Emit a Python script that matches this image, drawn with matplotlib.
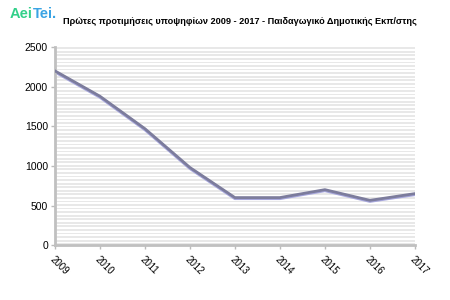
import matplotlib
matplotlib.use("Agg")
import matplotlib.pyplot as plt
import numpy as np

years = ["2009", "2010", "2011", "2012", "2013", "2014", "2015", "2016", "2017"]
values = [2200, 1880, 1470, 980, 600, 600, 700, 565, 650]
yticks = [0, 500, 1000, 1500, 2000, 2500]
title = "Πρώτες προτιμήσεις υποψηφίων 2009 - 2017 - Παιδαγωγικό Δημοτικής Εκπ/στης"

plt.rcParams['font.family'] = ['Liberation Sans', 'DejaVu Sans']

fig = plt.figure(figsize=(4.5, 3), dpi=100)
ax = fig.add_axes([0.122, 0.183, 0.8, 0.66])

x = np.arange(len(years))
# striped background
step = 45
for y0 in np.arange(0, 2500, step):
    ax.axhspan(y0, y0 + step * 0.5, color='#e8e8e8', lw=0, zorder=0)

# shadow + main line
ax.plot(x, np.array(values) - 12, color='#a6a6dc', lw=2.2, zorder=2, solid_joinstyle='round')
ax.plot(x, values, color='#7c7c9c', lw=2.0, zorder=3, solid_joinstyle='round')

ax.set_xlim(0, len(years) - 1)
ax.set_ylim(0, 2500)
ax.set_xticks(x)
ax.set_xticklabels(years, rotation=-45, ha='left', va='top', rotation_mode='anchor', fontsize=7)
ax.set_yticks(yticks)
ax.set_yticklabels([str(v) for v in yticks], fontsize=7.5)
ax.tick_params(axis='both', color='#bbbbbb', length=3, width=1, pad=2)
ax.tick_params(axis='x', pad=4)

for s in ['top', 'right']:
    ax.spines[s].set_visible(False)
for s in ['left', 'bottom']:
    ax.spines[s].set_color('#c0c0c0')
    ax.spines[s].set_linewidth(2)

fig.text(0.14, 0.927, title, fontsize=6.6, fontweight='bold', ha='left', va='center')
t1 = fig.text(0.022, 0.955, "Aei", fontsize=10.5, fontweight='bold', color='#33d08a', ha='left', va='center')
fig.canvas.draw()
bb = t1.get_window_extent(renderer=fig.canvas.get_renderer())
x1 = bb.x1 / fig.bbox.width
fig.text(x1, 0.955, "Tei.", fontsize=10.5, fontweight='bold', color='#3aa4e4', ha='left', va='center')

fig.savefig("out.png", dpi=100)
